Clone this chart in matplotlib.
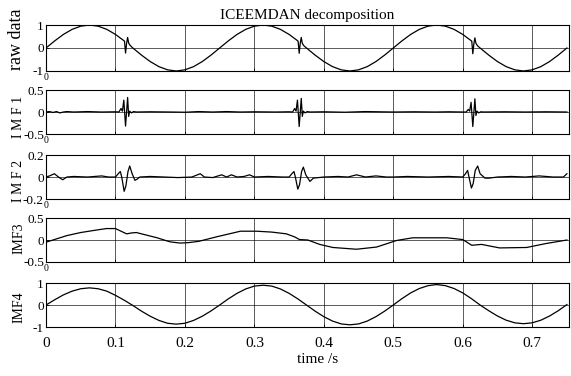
import matplotlib
matplotlib.use('Agg')
import matplotlib.pyplot as plt

plt.rcParams['font.family'] = ['Liberation Serif', 'DejaVu Serif']

# raw signal: 4 Hz sine with short transients near 0.115, 0.365, 0.615 s
raw_t = [0, 0.0125, 0.025, 0.0375, 0.05, 0.0625, 0.075, 0.0875, 0.1, 0.1125,
         0.113, 0.1145, 0.116, 0.1175, 0.119, 0.1215,
         0.125, 0.1375, 0.15, 0.1625, 0.175, 0.1875, 0.2, 0.2125, 0.225, 0.2375,
         0.25, 0.2625, 0.275, 0.2875, 0.3, 0.3125, 0.325, 0.3375, 0.35, 0.3625,
         0.363, 0.3645, 0.366, 0.3675, 0.369, 0.3715,
         0.375, 0.3875, 0.4, 0.4125, 0.425, 0.4375, 0.45, 0.4625, 0.475, 0.4875,
         0.5, 0.5125, 0.525, 0.5375, 0.55, 0.5625, 0.575, 0.5875, 0.6, 0.6125,
         0.613, 0.6145, 0.616, 0.6175, 0.619, 0.6215,
         0.625, 0.6375, 0.65, 0.6625, 0.675, 0.6875, 0.7, 0.7125, 0.725, 0.7375, 0.75]
raw_y = [0, 0.31, 0.59, 0.81, 0.95, 1.0, 0.95, 0.81, 0.59, 0.31,
         0.30, -0.22, 0.20, 0.46, 0.21, 0.10,
         0, -0.31, -0.59, -0.81, -0.95, -1.0, -0.95, -0.81, -0.59, -0.31,
         0, 0.31, 0.59, 0.81, 0.95, 1.0, 0.95, 0.81, 0.59, 0.31,
         0.29, -0.23, 0.20, 0.46, 0.20, 0.09,
         0, -0.31, -0.59, -0.81, -0.95, -1.0, -0.95, -0.81, -0.59, -0.31,
         0, 0.31, 0.59, 0.81, 0.95, 1.0, 0.95, 0.81, 0.59, 0.31,
         0.30, -0.25, 0.18, 0.44, 0.20, 0.09,
         0, -0.31, -0.59, -0.81, -0.95, -1.0, -0.95, -0.81, -0.59, -0.31, 0]

imf1_t = [0, 0.005, 0.01, 0.015, 0.02, 0.025, 0.03, 0.04, 0.06, 0.08, 0.1, 0.105,
          0.108, 0.110, 0.112, 0.1145, 0.1175, 0.119, 0.1205, 0.123, 0.126, 0.13,
          0.15, 0.18, 0.2, 0.22, 0.24, 0.26, 0.28, 0.3, 0.33, 0.35, 0.355,
          0.358, 0.360, 0.362, 0.3645, 0.3675, 0.369, 0.3705, 0.373, 0.376, 0.38,
          0.4, 0.43, 0.46, 0.5, 0.53, 0.56, 0.58, 0.6, 0.605,
          0.608, 0.610, 0.612, 0.6145, 0.6175, 0.619, 0.6205, 0.623, 0.626, 0.63,
          0.66, 0.69, 0.72, 0.75]
imf1_y = [0, 0.01, -0.01, 0.01, -0.02, 0.0, 0.01, 0.0, 0.01, 0.0, 0.005, 0.0,
          0.08, 0.02, 0.27, -0.32, 0.33, -0.10, 0.02, -0.02, 0.01, 0.0,
          0.005, 0.0, -0.005, 0.01, 0.0, 0.01, 0.0, 0.005, 0.0, 0.005, 0.0,
          0.08, 0.02, 0.27, -0.33, 0.31, -0.10, 0.02, -0.02, 0.01, 0.0,
          0.005, -0.005, 0.01, 0.0, 0.005, 0.0, 0.005, 0.0, 0.0,
          0.06, 0.02, 0.22, -0.33, 0.30, -0.08, 0.02, -0.02, 0.005, 0.0,
          0.005, 0.0, 0.005, 0.0]

imf2_t = [0, 0.005, 0.012, 0.018, 0.024, 0.03, 0.04, 0.06, 0.08, 0.09, 0.1,
          0.104, 0.107, 0.109, 0.1125, 0.115, 0.118, 0.1205, 0.124, 0.128, 0.131, 0.135,
          0.15, 0.17, 0.19, 0.21, 0.222, 0.228, 0.24, 0.253, 0.26, 0.267, 0.275,
          0.285, 0.293, 0.3, 0.32, 0.34, 0.35,
          0.354, 0.357, 0.359, 0.3625, 0.365, 0.368, 0.3705, 0.374, 0.38, 0.385,
          0.4, 0.42, 0.435, 0.447, 0.46, 0.475, 0.49, 0.5, 0.52, 0.55, 0.58, 0.6,
          0.604, 0.607, 0.609, 0.6125, 0.615, 0.618, 0.6215, 0.625, 0.632, 0.638,
          0.65, 0.67, 0.69, 0.71, 0.73, 0.745, 0.75]
imf2_y = [0, 0.01, 0.03, 0.0, -0.025, 0.0, 0.005, 0.0, 0.01, 0.0, 0.0,
          0.03, 0.05, 0.0, -0.13, -0.08, 0.05, 0.10, 0.03, -0.03, -0.02, 0.0,
          0.005, 0.0, -0.005, 0.0, 0.03, 0.0, -0.005, 0.02, 0.0, 0.02, 0.0,
          0.005, 0.02, 0.0, 0.005, 0.0, 0.0,
          0.03, 0.05, 0.0, -0.11, -0.07, 0.05, 0.09, 0.02, -0.04, -0.01,
          0.0, 0.005, 0.0, 0.02, 0.0, 0.01, 0.0, 0.0, 0.005, 0.0, 0.005, 0.0,
          0.03, 0.06, 0.0, -0.10, -0.06, 0.06, 0.10, 0.03, -0.01, -0.01,
          0.0, 0.005, 0.0, 0.01, 0.0, 0.0, 0.03]

imf3_t = [0, 0.01, 0.03, 0.05, 0.07, 0.087, 0.1, 0.108, 0.116, 0.123, 0.13, 0.14,
          0.16, 0.178, 0.193, 0.205, 0.22, 0.245, 0.28, 0.303, 0.325, 0.346, 0.358,
          0.365, 0.377, 0.394, 0.413, 0.447, 0.476, 0.505, 0.528, 0.577, 0.6,
          0.613, 0.627, 0.653, 0.692, 0.72, 0.75]
imf3_y = [-0.05, 0.0, 0.1, 0.17, 0.22, 0.26, 0.26, 0.2, 0.14, 0.16, 0.17, 0.13,
          0.05, -0.04, -0.07, -0.06, -0.03, 0.07, 0.2, 0.2, 0.18, 0.14, 0.07,
          0.01, 0.0, -0.1, -0.17, -0.21, -0.16, -0.01, 0.05, 0.05, 0.01,
          -0.12, -0.1, -0.18, -0.17, -0.08, 0.0]

imf4_t = [i * 0.0125 for i in range(61)]
imf4_y = [0, 0.24, 0.46, 0.63, 0.74, 0.78, 0.74, 0.63, 0.44, 0.22,
          -0.02, -0.28, -0.51, -0.70, -0.83, -0.87, -0.83, -0.70, -0.51, -0.27,
          0, 0.28, 0.53, 0.73, 0.86, 0.90, 0.86, 0.73, 0.53, 0.28,
          0, -0.28, -0.53, -0.73, -0.86, -0.90, -0.86, -0.73, -0.53, -0.28,
          0, 0.29, 0.55, 0.75, 0.88, 0.93, 0.88, 0.75, 0.55, 0.29,
          0, -0.26, -0.50, -0.69, -0.81, -0.85, -0.81, -0.69, -0.50, -0.26, 0.02]

series = [(raw_t, raw_y), (imf1_t, imf1_y), (imf2_t, imf2_y), (imf3_t, imf3_y), (imf4_t, imf4_y)]
names = ['raw data', 'I M F 1', 'I M F 2', 'IMF3', 'IMF4']
name_size = [13, 10, 10, 10, 10]
name_y = [0.68, 0.38, 0.4, 0.53, 0.46]
limits = [1, 0.5, 0.2, 0.5, 1]
tick_text = [['-1', '0', '1'], ['-0.5', '0', '0.5'], ['-0.2', '0', '0.2'],
             ['-0.5', '0', '0.5'], ['-1', '0', '1']]
x_ticks = [0, 0.1, 0.2, 0.3, 0.4, 0.5, 0.6, 0.7]

fig = plt.figure(figsize=(5.71, 3.76), dpi=100)
# panel rectangles in figure coordinates
boxes = [(0.0806, 0.8112, 0.9159, 0.1223),
         (0.0806, 0.6436, 0.9159, 0.1170),
         (0.0806, 0.4707, 0.9159, 0.1170),
         (0.0806, 0.3032, 0.9159, 0.1170),
         (0.0806, 0.1303, 0.9159, 0.1170)]

for i in range(5):
    ax = fig.add_axes(boxes[i])
    t, y = series[i]
    ax.plot(t, y, color='black', lw=0.9)
    lim = limits[i]
    ax.set_xlim(0, 0.753)
    ax.set_ylim(-lim, lim)
    ax.set_yticks([-lim, 0, lim])
    ax.set_yticklabels(tick_text[i])
    ax.set_xticks(x_ticks)
    ax.grid(True, color='black', lw=0.6, alpha=0.75)
    ax.tick_params(direction='in', length=2, width=0.6, labelsize=9.5, pad=1.5)
    for s in ax.spines.values():
        s.set_linewidth(0.8)
    ax.set_ylabel(names[i], fontsize=name_size[i])
    ax.yaxis.set_label_coords(-0.04, name_y[i])
    if i < 4:
        ax.set_xticklabels([])
        ax.text(0, -0.05, '0', transform=ax.transAxes, fontsize=7, ha='center', va='top')
    else:
        ax.set_xticklabels(['0', '0.1', '0.2', '0.3', '0.4', '0.5', '0.6', '0.7'], fontsize=11)
        ax.tick_params(axis='x', pad=7)
        ax.set_xlabel('time /s', fontsize=11)
        ax.xaxis.set_label_coords(0.52, -0.6)
    if i == 0:
        ax.set_title('ICEEMDAN decomposition', fontsize=11, pad=4)

fig.savefig('out.png', dpi=100)
